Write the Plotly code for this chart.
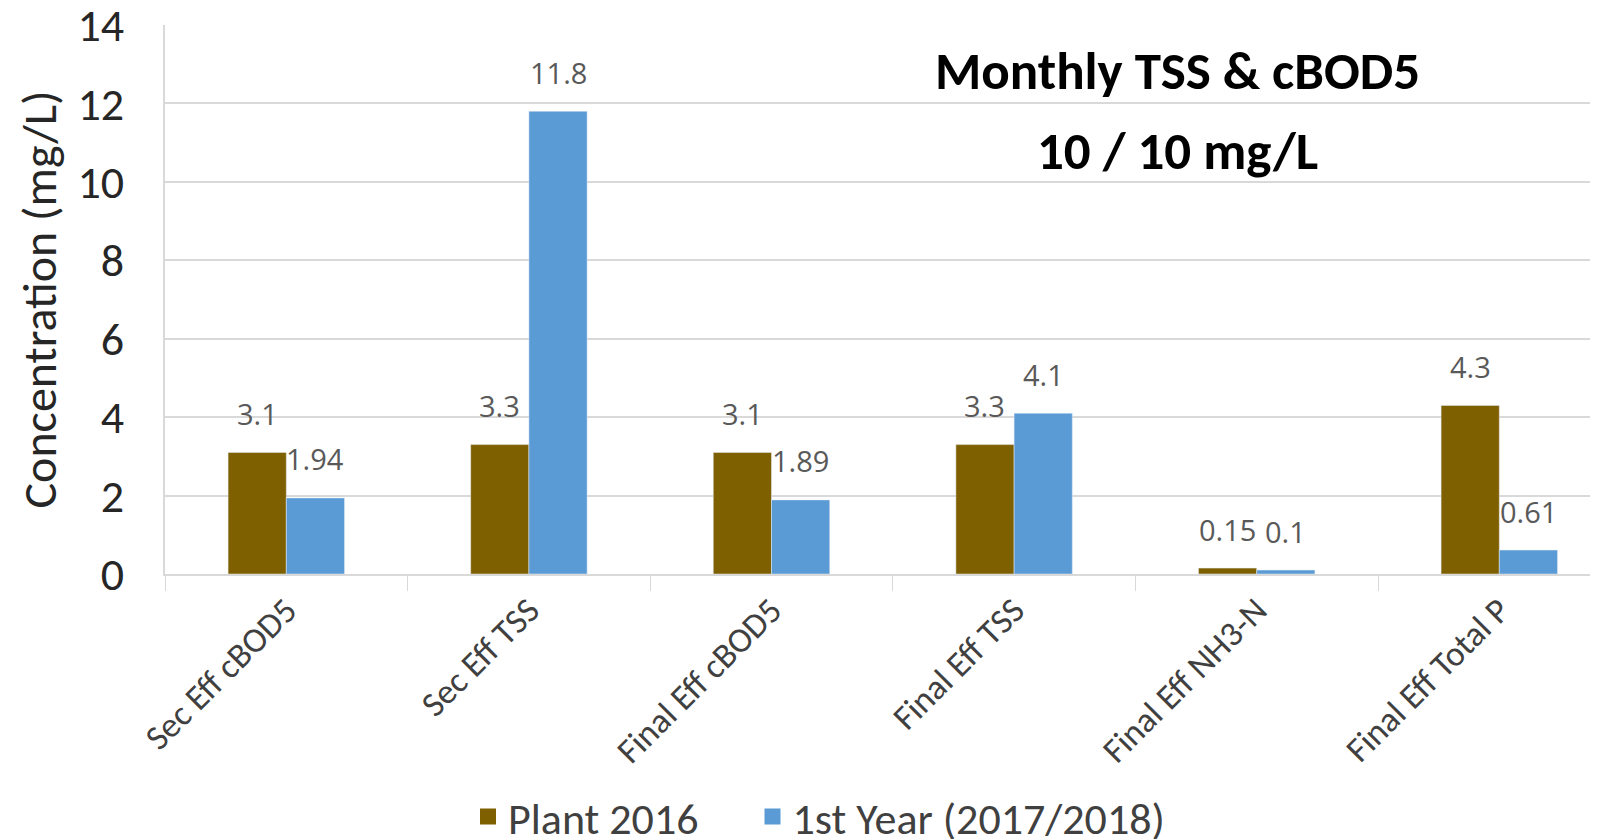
import plotly.graph_objects as go

categories = ["Sec Eff cBOD5", "Sec Eff TSS", "Final Eff cBOD5",
              "Final Eff TSS", "Final Eff NH3-N", "Final Eff Total P"]
plant_2016 = [3.1, 3.3, 3.1, 3.3, 0.15, 4.3]
first_year = [1.94, 11.8, 1.89, 4.1, 0.1, 0.61]
plant_labels = ["3.1", "3.3", "3.1", "3.3", "0.15", "4.3"]
year_labels = ["1.94", "11.8", "1.89", "4.1", "0.1", "0.61"]
series_names = ["Plant 2016", "1st Year (2017/2018)"]
y_ticks = [0, 2, 4, 6, 8, 10, 12, 14]

BROWN = "#7F6000"
BLUE = "#5B9BD5"
FONT = "Carlito, Lato, sans-serif"
BAR_GAP = 0.52
half = (1 - BAR_GAP) / 4
CAT_PX = 242.6  # pixel width of one category

fig = go.Figure()
fig.add_trace(go.Bar(x=categories, y=plant_2016, marker_color=BROWN,
                     name=series_names[0], showlegend=False))
fig.add_trace(go.Bar(x=categories, y=first_year, marker_color=BLUE,
                     name=series_names[1], showlegend=False))
# legend-only markers (bigger squares), one legend per series
for nm, col, lg in zip(series_names, [BROWN, BLUE], ["legend", "legend2"]):
    fig.add_trace(go.Scatter(x=[None], y=[None], mode="markers", name=nm,
                             legend=lg,
                             marker=dict(symbol="square", size=22, color=col)))

OFF = 8  # page body margin
L, R, T, B = 165 - OFF, 0, 25 - OFF, 839 - (574 - OFF)
W, H = 1598, 839
pw, ph = W - L - R, H - T - B

annotations = []
for i in range(len(categories)):
    for off, val, lab in [(-half, plant_2016[i], plant_labels[i]),
                          (half, first_year[i], year_labels[i])]:
        annotations.append(dict(x=i + off, y=val, xref="x", yref="y", text=lab,
                                showarrow=False, yanchor="middle", xanchor="center",
                                yshift=39,
                                font=dict(family="Open Sans, sans-serif", size=29,
                                          color="#595959")))
for txt, ypx in [("<b>Monthly TSS &amp; cBOD5</b>", 71), ("<b>10 / 10 mg/L</b>", 151)]:
    annotations.append(dict(x=(1177 - OFF - L) / pw, y=(H - (ypx - OFF) - B) / ph,
                            xref="paper", yref="paper", text=txt,
                            showarrow=False, xanchor="center", yanchor="middle",
                            font=dict(family=FONT, size=53, color="black")))

legend_common = dict(orientation="h", xref="container", yref="container",
                     xanchor="left", y=1 - 809 / H, yanchor="middle",
                     font=dict(size=44, color="#404040"), itemsizing="trace",
                     bgcolor="rgba(0,0,0,0)")

fig.update_layout(
    width=W, height=H,
    margin=dict(l=L, r=R, t=T, b=B, autoexpand=False),
    paper_bgcolor="white", plot_bgcolor="white",
    barmode="group", bargap=BAR_GAP, bargroupgap=0,
    font=dict(family=FONT, color="#404040"),
    annotations=annotations,
    legend=dict(x=460 / W, **legend_common),
    legend2=dict(x=744.5 / W, **legend_common),
    xaxis=dict(type="category", range=[-0.5, -0.5 + pw / CAT_PX],
               tickangle=-45, tickfont=dict(size=35, color="#404040"),
               ticks="outside", tickson="boundaries", ticklen=15,
               tickcolor="#d9d9d9", showline=True, linecolor="#d9d9d9",
               linewidth=1.5, showgrid=False),
    yaxis=dict(range=[0, 14], tickvals=y_ticks,
               tickfont=dict(size=46, color="#262626"),
               ticklabeloverflow="allow",
               showgrid=True, gridcolor="#d9d9d9", gridwidth=1.5,
               showline=True, linecolor="#d9d9d9", linewidth=1.5,
               zeroline=False, ticklabelstandoff=30,
               title=dict(text="Concentration (mg/L)",
                          font=dict(size=48, color="#262626"), standoff=6)),
)
fig.write_html("out.html")
